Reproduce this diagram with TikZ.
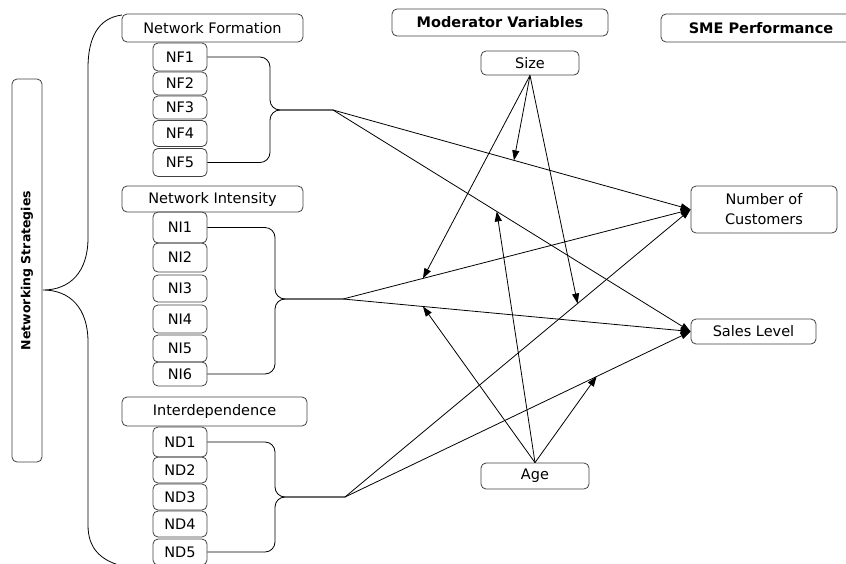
\documentclass[tikz,border=0pt]{standalone}
\usepackage{fontspec}
\setmainfont{DejaVu Sans}
\usetikzlibrary{arrows.meta}

\tikzset{
    box/.style={draw=black!75, rounded corners=5pt, inner sep=0pt, align=center,
        font=\fontsize{14.5}{20}\selectfont},
    title/.style={box, font=\fontsize{14.5}{16}\selectfont\bfseries},
    item/.style={box, minimum width=54pt},
    link/.style={-{Triangle[length=10pt,width=7pt]}},
    bracket/.style={rounded corners=10pt}
}

\begin{document}
\begin{tikzpicture}[x=1pt, y=-1pt, line width=0.8pt]
            \clip (0,0) rectangle (846,563);

            \node[title, rotate=90, minimum width=383pt, minimum height=30pt, font=\fontsize{12.5}{15}\selectfont\bfseries] (ns) at (27,270.5) {Networking Strategies};

            \node[box, minimum width=181pt, minimum height=28pt] (nf) at (212.5,28) {Network Formation};
            \node[item, minimum height=28pt] (nf1) at (180,57) {NF1};
            \node[item, minimum height=23pt] (nf2) at (180,83.5) {NF2};
            \node[item, minimum height=23pt] (nf3) at (180,107.5) {NF3};
            \node[item, minimum height=26pt] (nf4) at (180,133.5) {NF4};
            \node[item, minimum height=28pt] (nf5) at (180,162.5) {NF5};

            \node[box, minimum width=181pt, minimum height=26pt] (ni) at (212.5,199) {Network Intensity};
            \node[item, minimum height=31pt] (ni1) at (180,227.5) {NI1};
            \node[item, minimum height=29pt] (ni2) at (180,257.5) {NI2};
            \node[item, minimum height=27pt] (ni3) at (180,288.5) {NI3};
            \node[item, minimum height=28pt] (ni4) at (180,319) {NI4};
            \node[item, minimum height=27pt] (ni5) at (180,348.5) {NI5};
            \node[item, minimum height=24pt] (ni6) at (180,374) {NI6};

            \node[box, minimum width=185pt, minimum height=29pt] (nd) at (214.5,411.5) {Interdependence};
            \node[item, minimum height=30pt] (nd1) at (180,442) {ND1};
            \node[item, minimum height=26pt] (nd2) at (180,470) {ND2};
            \node[item, minimum height=26pt] (nd3) at (180,497) {ND3};
            \node[item, minimum height=26pt] (nd4) at (180,524) {ND4};
            \node[item, minimum height=26pt] (nd5) at (180,552) {ND5};

            \node[title, minimum width=216pt, minimum height=27pt] (mv) at (500,22.5) {Moderator Variables};
            \node[title, minimum width=200pt, minimum height=28pt] (sme) at (761,28) {SME Performance};
            \node[box, minimum width=98pt, minimum height=24pt] (size) at (530,63) {Size};
            \node[box, minimum width=108pt, minimum height=26pt] (age) at (535,476) {Age};
            \node[box, minimum width=146pt, minimum height=47pt] (nc) at (764,209.5) {Number of\\Customers};
            \node[box, minimum width=125pt, minimum height=25pt] (sl) at (753.5,331.5) {Sales Level};

            \coordinate (nft) at (333,110);
            \coordinate (nit) at (343,299);
            \coordinate (ndt) at (345,497);

            \draw (122,15) .. controls (98,18) and (88,38) .. (88,68) -- (88,238)
                .. controls (88,272) and (70,290) .. (43,290)
                .. controls (70,290) and (88,308) .. (88,342) -- (88,525)
                .. controls (88,548) and (100,560) .. (122,566);

            \draw[bracket] (nf1.east) -| (270,110) -- (nft);
            \draw[bracket] (nf5.east) -| (270,110) -- (nft);
            \draw[bracket] (ni1.east) -| (275,299) -- (nit);
            \draw[bracket] (ni6.east) -| (275,299) -- (nit);
            \draw[bracket] (nd1.east) -| (275,497) -- (ndt);
            \draw[bracket] (nd5.east) -| (275,497) -- (ndt);

            \foreach \t in {nft, nit, ndt} {
                \draw[link] (\t) -- (nc.west);
                \draw[link] (\t) -- (sl.west);
            }

            \path (nft) -- (nc.west) coordinate[pos=0.506] (m1);
            \path (nit) -- (nc.west) coordinate[pos=0.23] (m2);
            \path (ndt) -- (nc.west) coordinate[pos=0.673] (m3);
            \path (nft) -- (sl.west) coordinate[pos=0.458] (m4);
            \path (nit) -- (sl.west) coordinate[pos=0.23] (m5);
            \path (ndt) -- (sl.west) coordinate[pos=0.728] (m6);

            \foreach \m in {m1, m2, m3} \draw[link] (size.south) -- (\m);
            \foreach \m in {m4, m5, m6} \draw[link] (age.north) -- (\m);
        \end{tikzpicture}
\end{document}
